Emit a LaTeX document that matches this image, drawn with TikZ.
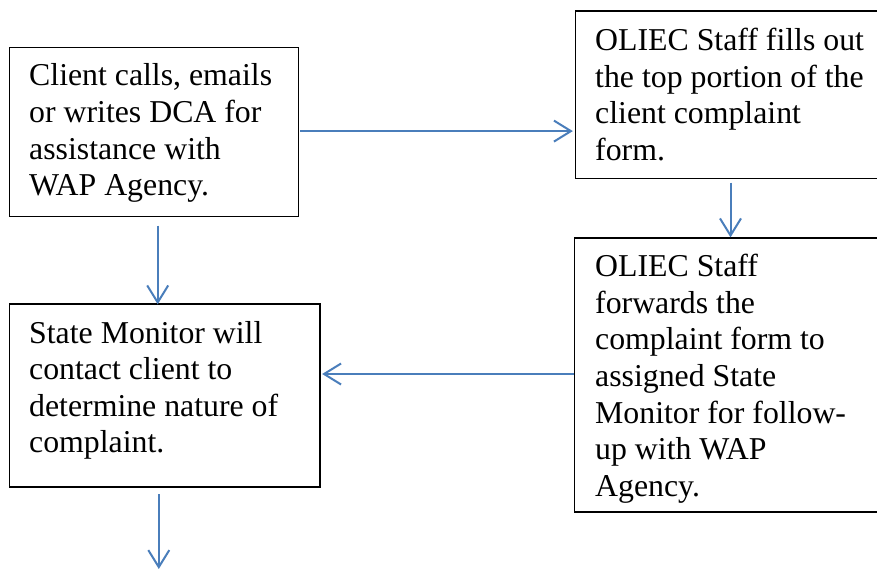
\documentclass[tikz,border=0pt]{standalone}
\usepackage{fontspec}
\setmainfont{Liberation Serif}
\newfontfamily\boxfont{Liberation Serif}
\usetikzlibrary{arrows.meta}
\definecolor{flowblue}{HTML}{4A7EBB}
\tikzset{
  box/.style={draw=black, line width=1.3pt, rectangle, inner sep=0pt},
  txt/.style={anchor=base west, inner sep=0pt},
  flow/.style={draw=flowblue, line width=2pt,
    -{Straight Barb[length=17pt,width=21pt,line width=2pt]}}
}
\newcommand{\boxtext}[1]{\parbox[t]{275pt}{\boxfont\fontsize{31.8}{36.6}\selectfont\raggedright #1}}
\begin{document}
\begin{tikzpicture}[x=1pt,y=-1pt]
  \useasboundingbox (0,0) rectangle (877,569);
  \fill[white] (0,0) rectangle (877,569);

  % boxes
  \node[box, minimum width=289.2pt, minimum height=169pt] (b1) at (154.1,132) {};
  \node[box, minimum width=305pt,   minimum height=167.5pt] (b2) at (728,94.75) {};
  \node[box, minimum width=306pt,   minimum height=274pt] (b3) at (727.5,375) {};
  \node[box, minimum width=310.5pt, minimum height=183pt] (b4) at (164.75,395.5) {};

  % texts
  \node[txt] (t1) at (29,86) {\boxtext{Client calls, emails\\or writes DCA for\\assistance with\\WAP Agency.}};
  \node[txt] (t2) at (595,50.8) {\boxtext{OLIEC Staff fills out\\the top portion of the\\client complaint\\form.}};
  \node[txt] (t3) at (595,276.6) {\boxtext{OLIEC Staff\\forwards the\\complaint form to\\assigned State\\Monitor for follow-\\up with WAP\\Agency.}};
  \node[txt] (t4) at (29,343) {\boxtext{State Monitor will\\contact client to\\determine nature of\\complaint.}};

  \coordinate (out) at (158.8,569);

  % connectors
  \draw[flow] ([xshift=1pt,yshift=0.9pt]b1.east) -- ([xshift=-2pt,yshift=0.9pt]b2.west |- b1.east);
  \draw[flow] (b2.south -| 730.5,0) ++(0,3.5) -- (b3.north -| 730.5,0);
  \draw[flow] (b1.south -| 157.7,0) ++(0,8.5) -- ([yshift=-1pt]b4.north -| 157.7,0);
  \draw[flow] (b3.west |- 0,374) -- ([xshift=1.5pt]b4.east |- 0,374);
  \draw[flow] (b4.south -| out) ++(0,6.5) -- (out);
\end{tikzpicture}
\end{document}
